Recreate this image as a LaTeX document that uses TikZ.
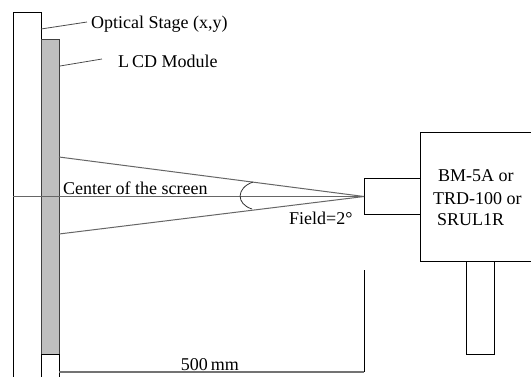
\documentclass[tikz,border=0pt]{standalone}
\usepackage{fontspec}
\setmainfont{Liberation Serif}
\begin{document}
\begin{tikzpicture}[x=1pt,y=-1pt,
  box/.style={draw=black,line width=1pt,inner sep=0pt,anchor=north west},
  lcdbox/.style={draw=black!75,fill=black!25,line width=1pt,inner sep=0pt,anchor=north west},
  ray/.style={draw=black!60,line width=1pt},
  leader/.style={draw=black!70,line width=0.8pt},
  dim/.style={draw=black!55,line width=1.6pt},
  lbl/.style={inner sep=0pt,anchor=base west,font=\fontsize{18}{20}\selectfont}]
\useasboundingbox (0,0) rectangle (531,376);
\clip (0,0) rectangle (531,376);
\fill[white] (0,0) rectangle (531,376);
% optical stage
\node[box,minimum width=28pt,minimum height=380pt] (stage) at (13,12) {};
% LCD module
\node[lcdbox,minimum width=18pt,minimum height=315pt] (lcd) at (41,39) {};
\node[box,minimum width=18pt,minimum height=30pt] (mount) at (41,354) {};
% meter
\node[box,minimum width=56pt,minimum height=36pt] (nose) at (364,178) {};
\node[box,minimum width=111pt,minimum height=129pt] (meter) at (420,132) {};
\node[box,minimum width=28pt,minimum height=93pt] (stand) at (466,261) {};
% rays
\coordinate (fu) at (59,157);
\coordinate (fl) at (59,234);
\draw[ray] (nose.west -| stage.west) -- (nose.west);
\draw[ray] (fu) -- (nose.west);
\draw[ray] (fl) -- (nose.west);
\coordinate (au) at (253,182);
\coordinate (al) at (252,209);
\draw[draw=black!80,line width=0.8pt] (au) .. controls (236,188) and (236,204) .. (al);
% labels
\node[lbl] (tstage) at (91,28) {Optical Stage (x,y)};
\node[lbl] (tlcd) at (118,67) {L\kern3pt CD Module};
\coordinate (ls) at (41,29);
\coordinate (ll) at (60,66);
\draw[leader] (ls) -- ([xshift=-4pt,yshift=6pt]tstage.base west);
\draw[leader] (ll) -- ([xshift=-16pt,yshift=8pt]tlcd.base west);
\node[lbl] (tcenter) at (63,194) {Center of the screen};
\node[lbl] (tfield) at (289,224) {Field=2°};
\node[lbl] (t1) at (438,181) {BM-5A or};
\node[lbl] (t2) at (433,204) {TRD-100 or};
\node[lbl] (t3) at (437,225) {SRUL1R};
% dimension
\coordinate (d1) at (59,372);
\coordinate (d2) at (364,372);
\coordinate (d3) at (364,270);
\draw[dim] (d1) -- (d2);
\draw[box] (d3) -- (d2);
\node[lbl,anchor=base] (tdim) at (210,370) {500\,mm};
\end{tikzpicture}
\end{document}
